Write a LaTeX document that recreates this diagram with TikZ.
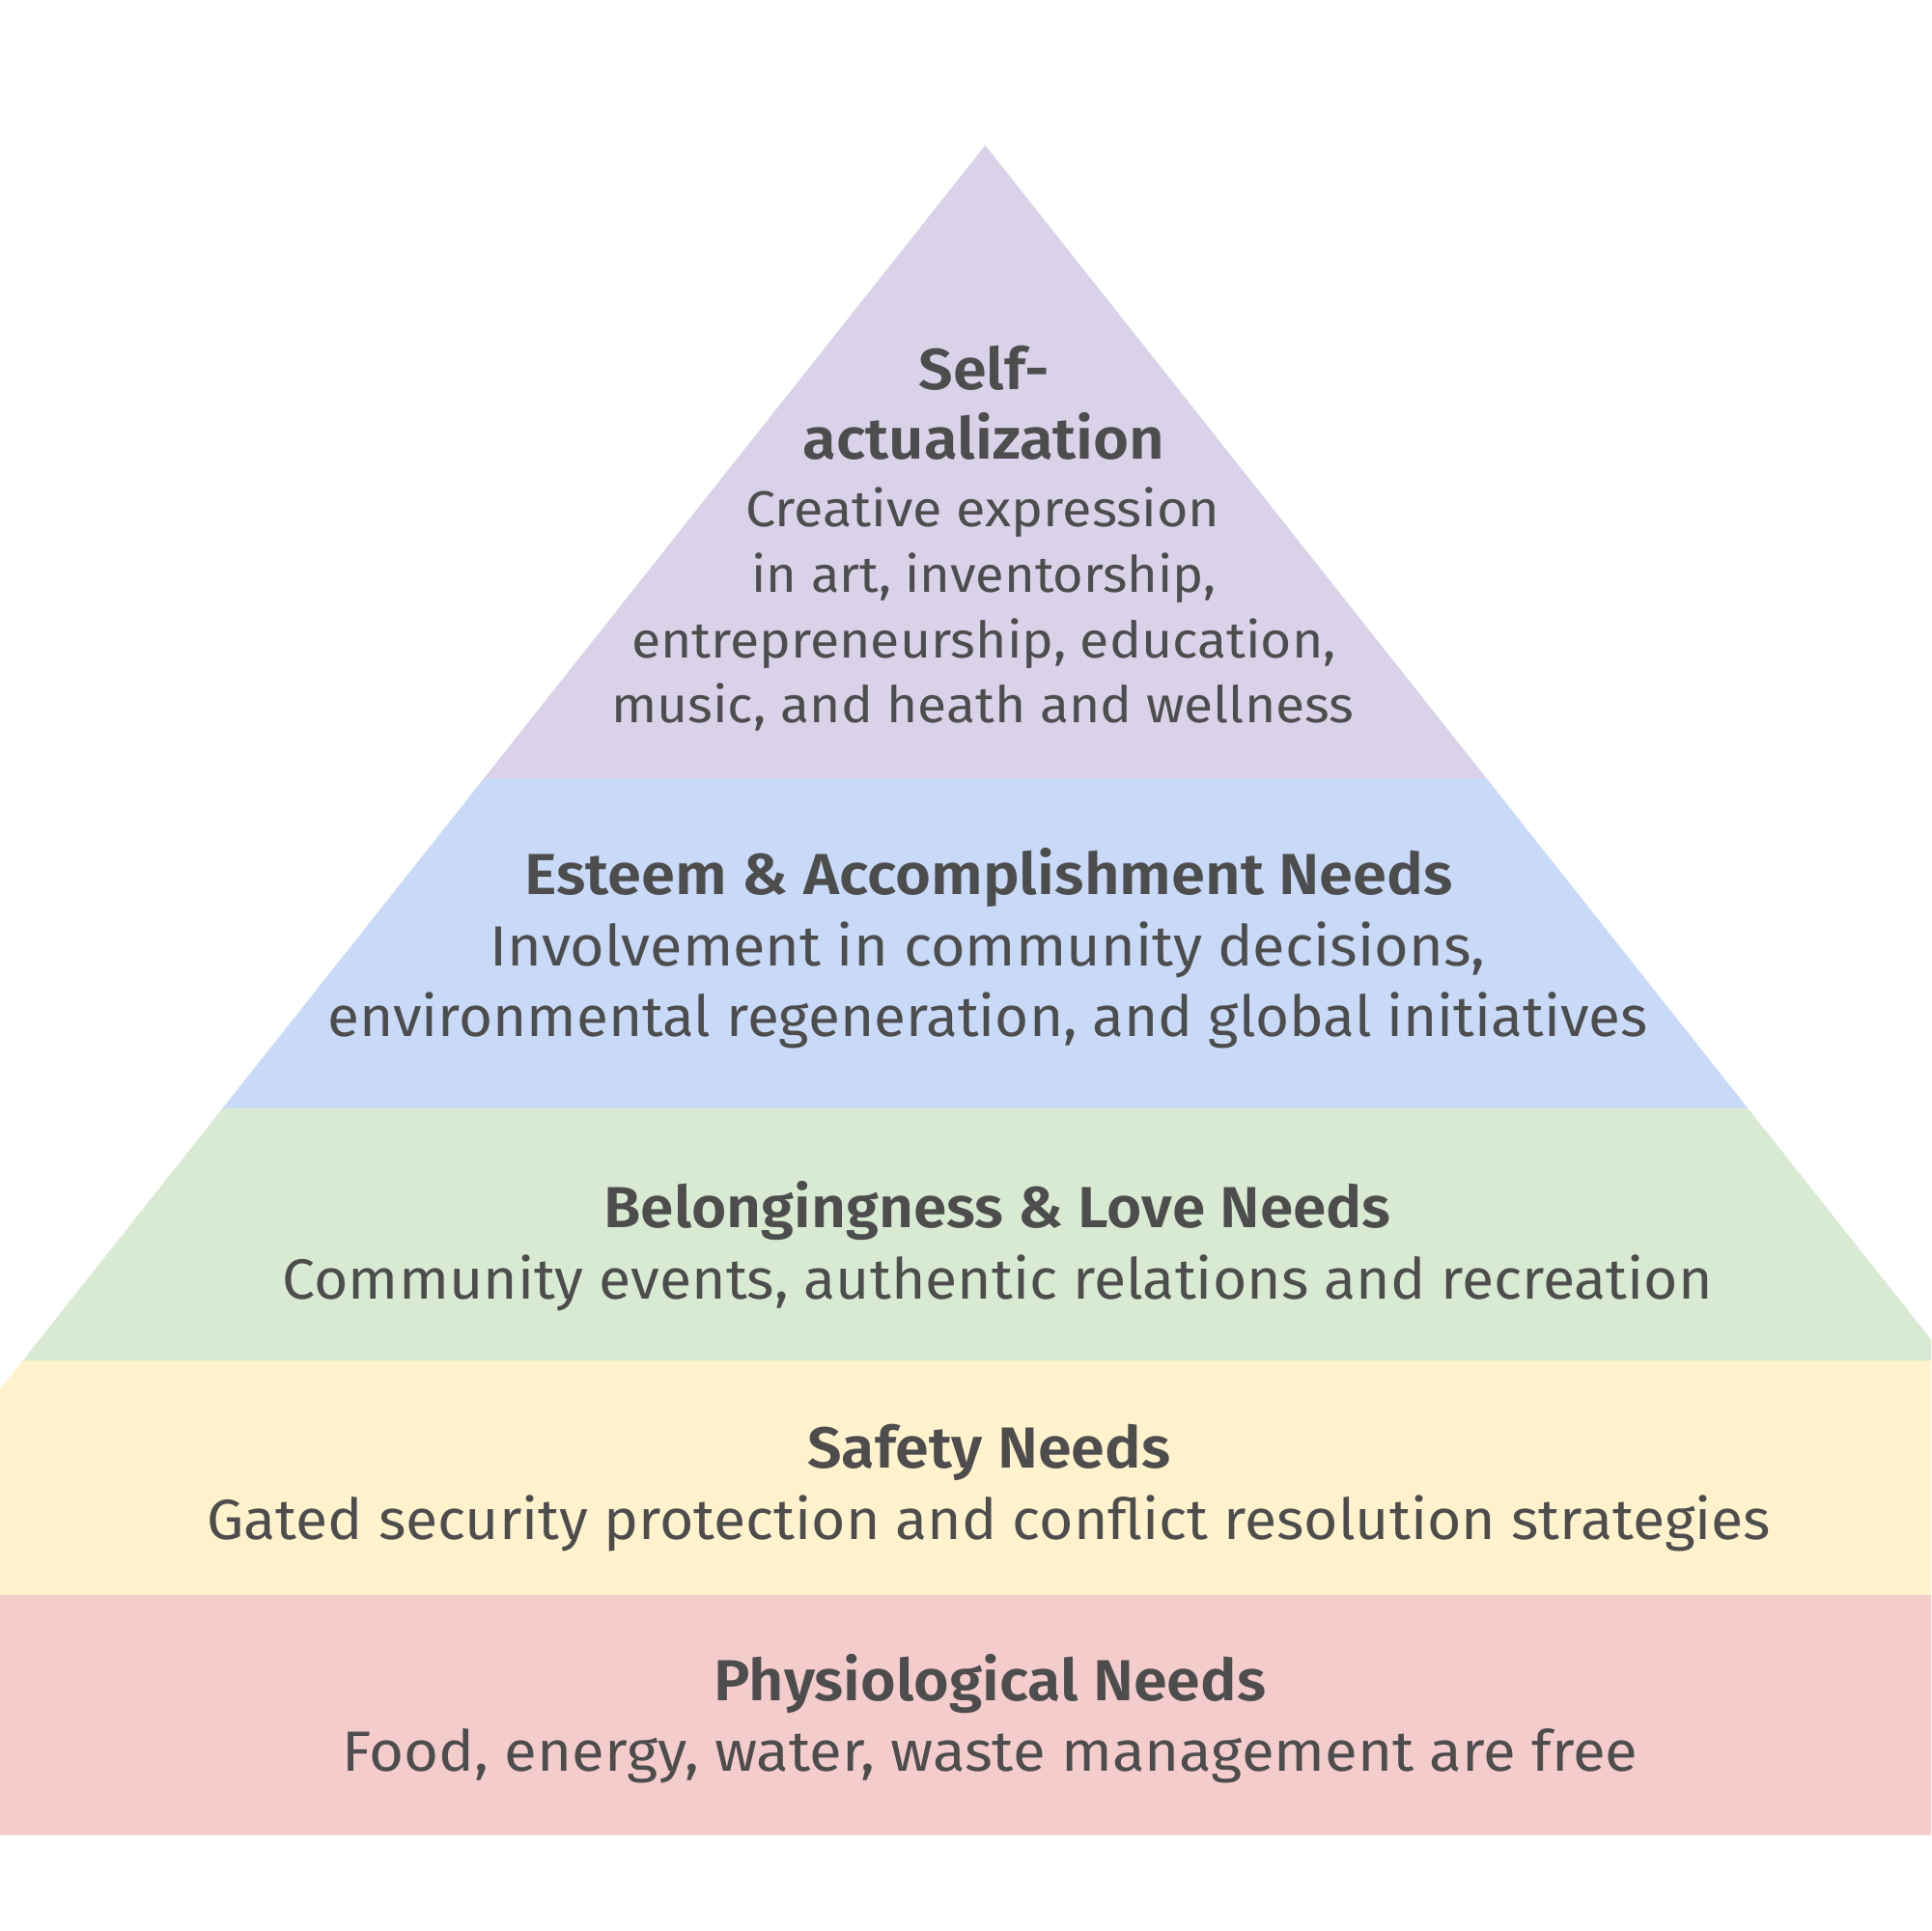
\documentclass[tikz,border=0pt]{standalone}
\usepackage{fontspec}
\usepackage{graphicx}
\setmainfont{Fira Sans}[BoldFont={Fira Sans SemiBold}]
\definecolor{txt}{HTML}{4D4D4D}
\definecolor{lpurple}{HTML}{D9D2E9}
\definecolor{lblue}{HTML}{C9DAF8}
\definecolor{lgreen}{HTML}{D9EAD3}
\definecolor{lyellow}{HTML}{FFF2CC}
\definecolor{lred}{HTML}{F4CCCC}
\newcommand{\fitw}[2]{\resizebox{#1pt}{\height}{#2}}
\tikzset{
  ttl/.style={font=\bfseries\fontsize{47}{56}\selectfont, text=txt, anchor=base, inner sep=0pt},
  bod/.style={font=\fontsize{46}{55}\selectfont, text=txt, anchor=base, inner sep=0pt},
  pbod/.style={font=\fontsize{41}{49}\selectfont, text=txt, anchor=base, inner sep=0pt},
}
\begin{document}
\begin{tikzpicture}[x=1pt,y=-1pt]
\useasboundingbox (0,0) rectangle (1568,1568);
\fill[white] (0,0) rectangle (1568,1568);
\begin{scope}
\clip (0,0) rectangle (1568,1568);
% layers (apex at (800,118), slope 0.792)
\fill[lpurple] (800,118) -- (1207.8,633) -- (392.2,633) -- cycle;
\fill[lblue] (393,632) -- (1207,632) -- (1420.1,901) -- (179.9,901) -- cycle;
\fill[lgreen] (180.7,900) -- (1419.3,900) -- (1582.5,1106) -- (17.5,1106) -- cycle;
\fill[lyellow] (18.3,1105) -- (1581.7,1105) -- (1733,1296) -- (-133,1296) -- cycle;
\fill[lred] (-132.2,1295) -- (1732.2,1295) -- (1886.6,1490) -- (-286.6,1490) -- cycle;
\end{scope}
% Self-actualization
\node[ttl] (sa1) at (799,316) {\fitw{106}{Self-}};
\node[ttl] (sa2) at (799,373) {\fitw{294}{actualization}};
\node[pbod] (sa3) at (798,428) {\fitw{385}{Creative expression}};
\node[pbod] (sa4) at (799,481) {\fitw{377}{in art, inventorship,}};
\node[pbod] (sa5) at (799,534) {\fitw{572}{entrepreneurship, education,}};
\node[pbod] (sa6) at (798,587) {\fitw{603}{music, and heath and wellness}};
% Esteem
\node[ttl] (es1) at (803,726) {\fitw{754}{Esteem \& Accomplishment Needs}};
\node[bod] (es2) at (802,784) {\fitw{808}{Involvement in community decisions,}};
\node[bod] (es3) at (802,842) {\fitw{1072}{environmental regeneration, and global initiatives}};
% Belongingness
\node[ttl] (be1) at (810,997) {\fitw{639}{Belongingness \& Love Needs}};
\node[bod] (be2) at (810,1055) {\fitw{1161}{Community events, authentic relations and recreation}};
% Safety
\node[ttl] (sf1) at (803,1192) {\fitw{295}{Safety Needs}};
\node[bod] (sf2) at (803,1250) {\fitw{1270}{Gated security protection and conflict resolution strategies}};
% Physiological
\node[ttl] (ph1) at (804,1381) {\fitw{448}{Physiological Needs}};
\node[bod] (ph2) at (804,1438) {\fitw{1052}{Food, energy, water, waste management are free}};
\end{tikzpicture}
\end{document}
